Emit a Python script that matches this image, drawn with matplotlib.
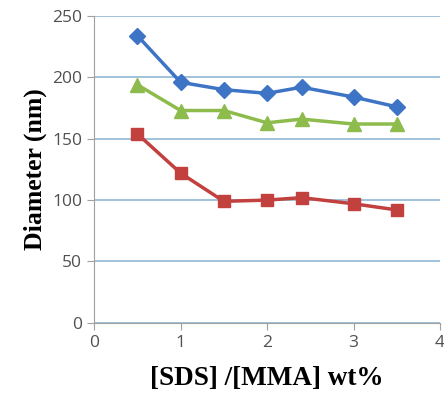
import matplotlib
matplotlib.use("Agg")
import matplotlib.pyplot as plt

x = [0.5, 1, 1.5, 2, 2.4, 3, 3.5]
blue = [234, 196, 190, 187, 192, 184, 176]
green = [194, 173, 173, 163, 166, 162, 162]
red = [154, 122, 99, 100, 102, 97, 92]
xticks = [0, 1, 2, 3, 4]
yticks = [0, 50, 100, 150, 200, 250]

fig = plt.figure(figsize=(4.44, 4.01), dpi=100)
ax = fig.add_axes([0.212, 0.195, 0.779, 0.765])

ax.plot(x, blue, color="#3E74C6", lw=2.5, marker="D", ms=8, zorder=3)
ax.plot(x, green, color="#8DBB4C", lw=2.5, marker="^", ms=10, zorder=3)
ax.plot(x, red, color="#C2403D", lw=2.5, marker="s", ms=9, zorder=3)

ax.set_xlim(0, 4)
ax.set_ylim(0, 250)
ax.set_xticks(xticks)
ax.set_yticks(yticks)
ax.yaxis.grid(True, color="#8FB8D4", lw=1.2)
ax.set_axisbelow(True)
for s in ["top", "right"]:
    ax.spines[s].set_visible(False)
for s in ["left", "bottom"]:
    ax.spines[s].set_color("#A0A0A0")
ax.tick_params(axis="both", colors="#A0A0A0", labelcolor="#505050",
               labelsize=12.5, length=5)
for lab in ax.get_xticklabels() + ax.get_yticklabels():
    lab.set_family("Open Sans")

ax.set_ylabel("Diameter (nm)", family="Liberation Serif", weight="bold",
              fontsize=18.5, labelpad=4)
ax.set_xlabel("[SDS] /[MMA] wt%", family="Liberation Serif", weight="bold",
              fontsize=19.5, labelpad=11)

fig.savefig("out.png", dpi=100)
